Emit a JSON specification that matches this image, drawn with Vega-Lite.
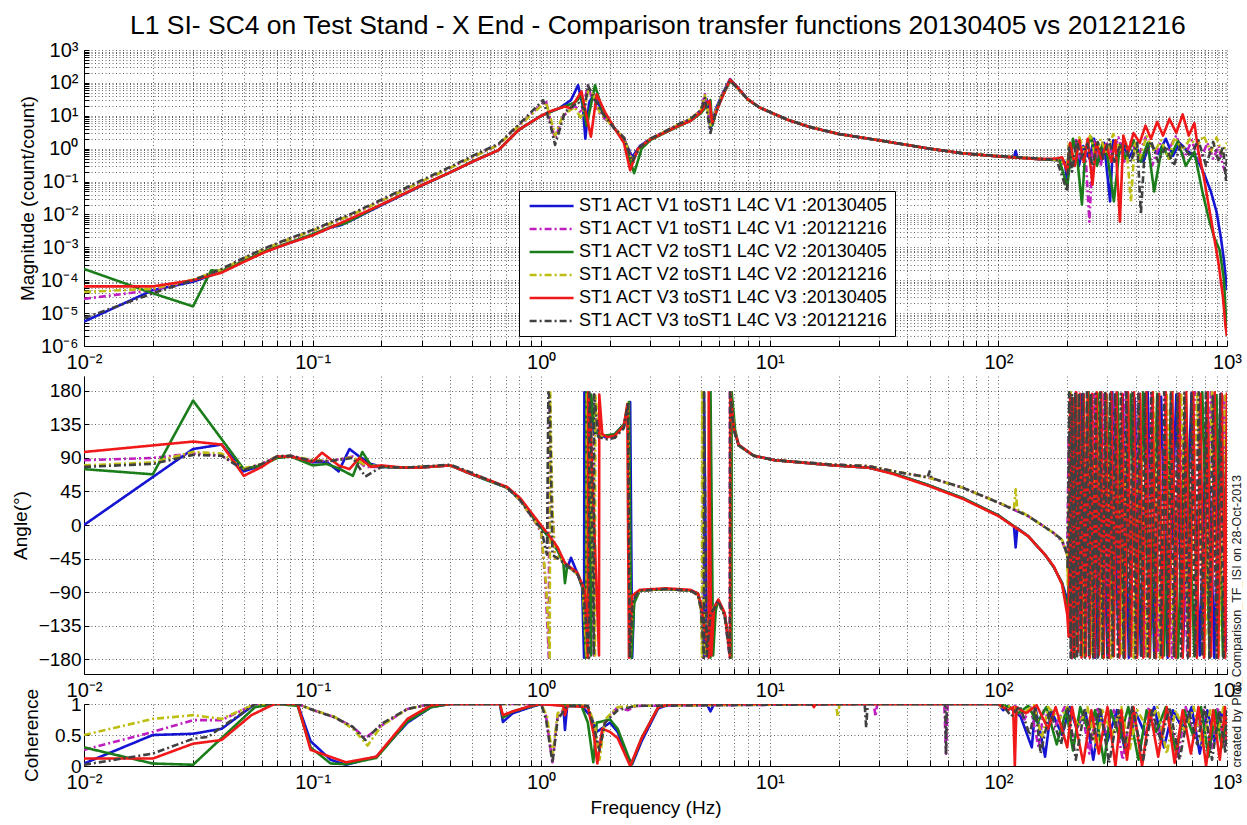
{
"$schema": "https://vega.github.io/schema/vega-lite/v6.json",
"padding": {"left": 11, "top": 12, "right": 0, "bottom": 5},
"title": {"text": "L1 SI- SC4 on Test Stand - X End - Comparison transfer functions 20130405 vs 20121216", "fontSize": 26.5, "fontWeight": "normal", "font": "Liberation Sans", "color": "#000", "anchor": "middle", "offset": 1, "dx": 31},
"config": {
 "view": {"stroke": null},
 "font": "Liberation Sans",
 "axis": {"labelFont": "Liberation Sans", "titleFont": "Liberation Sans", "labelColor": "#000", "titleColor": "#000", "domainColor": "#000", "tickColor": "#000", "gridColor": "#000", "gridDash": [1, 2.5], "gridOpacity": 0.6, "titleFontWeight": "normal", "labelFontSize": 19, "titleFontSize": 19}
},
"bounds": "flush",
"spacing": 30,
"resolve": {"scale": {"color": "independent", "strokeDash": "independent"}, "legend": {"color": "independent", "strokeDash": "independent"}},
"datasets": {
"mag": [
{"f":0.01,"s":"b","v":5.5e-6},{"f":0.02,"s":"b","v":5e-5},{"f":0.03,"s":"b","v":9e-5},{"f":0.04,"s":"b","v":1.8e-4},{"f":0.05,"s":"b","v":3.8e-4},{"f":0.062,"s":"b","v":7.5e-4},{"f":0.078,"s":"b","v":1.3e-3},{"f":0.1,"s":"b","v":2.4e-3},{"f":0.12,"s":"b","v":4e-3},{"f":0.134,"s":"b","v":4.8e-3},{"f":0.15,"s":"b","v":7e-3},{"f":0.2,"s":"b","v":0.019},{"f":0.3,"s":"b","v":0.075},{"f":0.4,"s":"b","v":0.19},{"f":0.5,"s":"b","v":0.4},{"f":0.65,"s":"b","v":0.9},{"f":0.8,"s":"b","v":3.8},{"f":1.0,"s":"b","v":10},{"f":1.2,"s":"b","v":17},{"f":1.35,"s":"b","v":30},{"f":1.45,"s":"b","v":85},{"f":1.52,"s":"b","v":20},{"f":1.56,"s":"b","v":2},{"f":1.62,"s":"b","v":25},{"f":1.7,"s":"b","v":45},{"f":1.85,"s":"b","v":13},{"f":2.1,"s":"b","v":4},{"f":2.3,"s":"b","v":2},{"f":2.5,"s":"b","v":0.55},{"f":2.7,"s":"b","v":1.2},{"f":3.0,"s":"b","v":2},{"f":3.5,"s":"b","v":3.2},{"f":4.0,"s":"b","v":5},{"f":4.5,"s":"b","v":7},{"f":5.0,"s":"b","v":13},{"f":5.3,"s":"b","v":32},{"f":5.5,"s":"b","v":4},{"f":5.8,"s":"b","v":16},{"f":6.2,"s":"b","v":46},{"f":6.7,"s":"b","v":130},{"f":7.2,"s":"b","v":75},{"f":8,"s":"b","v":32},{"f":9,"s":"b","v":18},{"f":10,"s":"b","v":13},{"f":12,"s":"b","v":7.5},{"f":15,"s":"b","v":4.5},{"f":20,"s":"b","v":2.8},{"f":30,"s":"b","v":1.8},{"f":50,"s":"b","v":1.0},{"f":70,"s":"b","v":0.72},{"f":100,"s":"b","v":0.58},{"f":117,"s":"b","v":0.55},{"f":119,"s":"b","v":0.85},{"f":121,"s":"b","v":0.55},{"f":150,"s":"b","v":0.48},{"f":180,"s":"b","v":0.45},{"f":195,"s":"b","v":0.4},{"f":200,"s":"b","v":0.1},{"f":205,"s":"b","v":0.6},{"f":215,"s":"b","v":1.5},{"f":225,"s":"b","v":0.3},{"f":235,"s":"b","v":1.2},{"f":250,"s":"b","v":0.5},{"f":262,"s":"b","v":2},{"f":275,"s":"b","v":0.4},{"f":290,"s":"b","v":1.5},{"f":308,"s":"b","v":0.025},{"f":318,"s":"b","v":1.8},{"f":335,"s":"b","v":0.6},{"f":350,"s":"b","v":1.5},{"f":370,"s":"b","v":0.5},{"f":400,"s":"b","v":1.2},{"f":430,"s":"b","v":0.4},{"f":460,"s":"b","v":1.4},{"f":500,"s":"b","v":0.7},{"f":540,"s":"b","v":2},{"f":580,"s":"b","v":0.6},{"f":620,"s":"b","v":1.5},{"f":680,"s":"b","v":0.8},{"f":740,"s":"b","v":0.5},{"f":800,"s":"b","v":0.15},{"f":850,"s":"b","v":0.05},{"f":900,"s":"b","v":0.012},{"f":940,"s":"b","v":2e-3},{"f":970,"s":"b","v":4e-4},{"f":1000,"s":"b","v":5e-5},
{"f":0.01,"s":"m","v":2.7e-5},{"f":0.02,"s":"m","v":5e-5},{"f":0.03,"s":"m","v":1e-4},{"f":0.04,"s":"m","v":2e-4},{"f":0.05,"s":"m","v":4.5e-4},{"f":0.062,"s":"m","v":9e-4},{"f":0.078,"s":"m","v":1.7e-3},{"f":0.1,"s":"m","v":3.2e-3},{"f":0.15,"s":"m","v":0.01},{"f":0.2,"s":"m","v":0.026},{"f":0.3,"s":"m","v":0.1},{"f":0.4,"s":"m","v":0.26},{"f":0.5,"s":"m","v":0.55},{"f":0.65,"s":"m","v":1.3},{"f":0.8,"s":"m","v":5},{"f":1.0,"s":"m","v":22},{"f":1.05,"s":"m","v":28},{"f":1.1,"s":"m","v":6},{"f":1.15,"s":"m","v":2},{"f":1.25,"s":"m","v":10},{"f":1.4,"s":"m","v":20},{"f":1.5,"s":"m","v":12},{"f":1.6,"s":"m","v":80},{"f":1.68,"s":"m","v":30},{"f":1.8,"s":"m","v":12},{"f":2.1,"s":"m","v":4},{"f":2.3,"s":"m","v":2.2},{"f":2.5,"s":"m","v":0.4},{"f":2.7,"s":"m","v":1.1},{"f":3.0,"s":"m","v":2},{"f":3.5,"s":"m","v":3.4},{"f":4.0,"s":"m","v":5.5},{"f":4.5,"s":"m","v":8},{"f":5.0,"s":"m","v":15},{"f":5.2,"s":"m","v":46},{"f":5.45,"s":"m","v":8},{"f":5.7,"s":"m","v":10},{"f":6.2,"s":"m","v":45},{"f":6.7,"s":"m","v":120},{"f":7.2,"s":"m","v":70},{"f":8,"s":"m","v":32},{"f":9,"s":"m","v":18},{"f":10,"s":"m","v":13},{"f":12,"s":"m","v":7.5},{"f":15,"s":"m","v":4.6},{"f":20,"s":"m","v":2.8},{"f":30,"s":"m","v":1.8},{"f":50,"s":"m","v":1.0},{"f":70,"s":"m","v":0.72},{"f":100,"s":"m","v":0.6},{"f":150,"s":"m","v":0.5},{"f":180,"s":"m","v":0.45},{"f":200,"s":"m","v":0.3},{"f":208,"s":"m","v":0.8},{"f":218,"s":"m","v":2},{"f":228,"s":"m","v":0.5},{"f":240,"s":"m","v":0.9},{"f":250,"s":"m","v":0.006},{"f":260,"s":"m","v":1.8},{"f":280,"s":"m","v":0.3},{"f":295,"s":"m","v":1.6},{"f":315,"s":"m","v":0.7},{"f":335,"s":"m","v":2.2},{"f":355,"s":"m","v":0.4},{"f":380,"s":"m","v":1.7},{"f":410,"s":"m","v":0.6},{"f":440,"s":"m","v":2.2},{"f":470,"s":"m","v":0.3},{"f":510,"s":"m","v":1.5},{"f":550,"s":"m","v":0.8},{"f":600,"s":"m","v":2.5},{"f":650,"s":"m","v":0.5},{"f":700,"s":"m","v":1.8},{"f":760,"s":"m","v":0.4},{"f":820,"s":"m","v":1.5},{"f":870,"s":"m","v":0.5},{"f":920,"s":"m","v":1.2},{"f":960,"s":"m","v":0.3},{"f":1000,"s":"m","v":0.15},
{"f":0.01,"s":"g","v":2.2e-4},{"f":0.02,"s":"g","v":4e-5},{"f":0.03,"s":"g","v":1.6e-5},{"f":0.036,"s":"g","v":2e-4},{"f":0.04,"s":"g","v":1.9e-4},{"f":0.05,"s":"g","v":3.9e-4},{"f":0.062,"s":"g","v":7.8e-4},{"f":0.078,"s":"g","v":1.35e-3},{"f":0.1,"s":"g","v":2.5e-3},{"f":0.12,"s":"g","v":4.2e-3},{"f":0.14,"s":"g","v":5.5e-3},{"f":0.15,"s":"g","v":7.2e-3},{"f":0.2,"s":"g","v":0.02},{"f":0.3,"s":"g","v":0.077},{"f":0.4,"s":"g","v":0.19},{"f":0.5,"s":"g","v":0.41},{"f":0.65,"s":"g","v":0.9},{"f":0.8,"s":"g","v":3.8},{"f":1.0,"s":"g","v":10},{"f":1.2,"s":"g","v":17},{"f":1.4,"s":"g","v":25},{"f":1.5,"s":"g","v":40},{"f":1.58,"s":"g","v":5},{"f":1.72,"s":"g","v":85},{"f":1.85,"s":"g","v":15},{"f":2.1,"s":"g","v":4},{"f":2.3,"s":"g","v":1.8},{"f":2.55,"s":"g","v":0.18},{"f":2.75,"s":"g","v":1.0},{"f":3.0,"s":"g","v":1.8},{"f":3.5,"s":"g","v":3.1},{"f":4.0,"s":"g","v":4.8},{"f":4.5,"s":"g","v":7},{"f":5.0,"s":"g","v":12},{"f":5.3,"s":"g","v":20},{"f":5.5,"s":"g","v":30},{"f":5.6,"s":"g","v":5},{"f":5.9,"s":"g","v":18},{"f":6.3,"s":"g","v":50},{"f":6.75,"s":"g","v":120},{"f":7.2,"s":"g","v":72},{"f":8,"s":"g","v":31},{"f":9,"s":"g","v":18},{"f":10,"s":"g","v":13},{"f":12,"s":"g","v":7.5},{"f":15,"s":"g","v":4.5},{"f":20,"s":"g","v":2.8},{"f":30,"s":"g","v":1.8},{"f":50,"s":"g","v":1.0},{"f":70,"s":"g","v":0.72},{"f":100,"s":"g","v":0.58},{"f":150,"s":"g","v":0.48},{"f":185,"s":"g","v":0.45},{"f":200,"s":"g","v":0.07},{"f":205,"s":"g","v":0.3},{"f":212,"s":"g","v":2},{"f":222,"s":"g","v":0.4},{"f":232,"s":"g","v":0.02},{"f":240,"s":"g","v":0.9},{"f":255,"s":"g","v":2.2},{"f":270,"s":"g","v":0.3},{"f":285,"s":"g","v":1.4},{"f":300,"s":"g","v":0.6},{"f":320,"s":"g","v":0.025},{"f":340,"s":"g","v":1.3},{"f":360,"s":"g","v":0.5},{"f":390,"s":"g","v":1.8},{"f":420,"s":"g","v":0.4},{"f":450,"s":"g","v":1.5},{"f":480,"s":"g","v":0.05},{"f":520,"s":"g","v":1.2},{"f":560,"s":"g","v":0.5},{"f":610,"s":"g","v":1.7},{"f":660,"s":"g","v":0.3},{"f":720,"s":"g","v":0.8},{"f":780,"s":"g","v":0.05},{"f":830,"s":"g","v":8e-3},{"f":880,"s":"g","v":2e-3},{"f":930,"s":"g","v":8e-4},{"f":970,"s":"g","v":1e-4},{"f":1000,"s":"g","v":2e-6},
{"f":0.01,"s":"y","v":4.4e-5},{"f":0.02,"s":"y","v":5.5e-5},{"f":0.03,"s":"y","v":1.05e-4},{"f":0.04,"s":"y","v":2.1e-4},{"f":0.05,"s":"y","v":4.6e-4},{"f":0.062,"s":"y","v":9e-4},{"f":0.078,"s":"y","v":1.7e-3},{"f":0.1,"s":"y","v":3.2e-3},{"f":0.15,"s":"y","v":0.01},{"f":0.2,"s":"y","v":0.026},{"f":0.3,"s":"y","v":0.1},{"f":0.4,"s":"y","v":0.26},{"f":0.5,"s":"y","v":0.55},{"f":0.65,"s":"y","v":1.3},{"f":0.8,"s":"y","v":5},{"f":1.0,"s":"y","v":20},{"f":1.05,"s":"y","v":26},{"f":1.1,"s":"y","v":8},{"f":1.15,"s":"y","v":2.5},{"f":1.25,"s":"y","v":11},{"f":1.4,"s":"y","v":18},{"f":1.5,"s":"y","v":8},{"f":1.62,"s":"y","v":70},{"f":1.7,"s":"y","v":40},{"f":1.8,"s":"y","v":13},{"f":2.1,"s":"y","v":4},{"f":2.3,"s":"y","v":2.1},{"f":2.5,"s":"y","v":0.45},{"f":2.7,"s":"y","v":1.1},{"f":3.0,"s":"y","v":2},{"f":3.5,"s":"y","v":3.4},{"f":4.0,"s":"y","v":5.5},{"f":4.5,"s":"y","v":8},{"f":5.0,"s":"y","v":15},{"f":5.2,"s":"y","v":42},{"f":5.5,"s":"y","v":5},{"f":5.7,"s":"y","v":10},{"f":6.2,"s":"y","v":45},{"f":6.7,"s":"y","v":115},{"f":7.2,"s":"y","v":70},{"f":8,"s":"y","v":32},{"f":9,"s":"y","v":18},{"f":10,"s":"y","v":13},{"f":12,"s":"y","v":7.5},{"f":15,"s":"y","v":4.6},{"f":20,"s":"y","v":2.8},{"f":30,"s":"y","v":1.8},{"f":50,"s":"y","v":1.0},{"f":70,"s":"y","v":0.72},{"f":100,"s":"y","v":0.6},{"f":150,"s":"y","v":0.5},{"f":180,"s":"y","v":0.45},{"f":200,"s":"y","v":0.35},{"f":204,"s":"y","v":1.5},{"f":214,"s":"y","v":0.5},{"f":226,"s":"y","v":2.2},{"f":238,"s":"y","v":0.8},{"f":252,"s":"y","v":2.5},{"f":266,"s":"y","v":0.6},{"f":280,"s":"y","v":2},{"f":298,"s":"y","v":0.7},{"f":318,"s":"y","v":2.8},{"f":340,"s":"y","v":0.9},{"f":362,"s":"y","v":1.5},{"f":380,"s":"y","v":0.025},{"f":395,"s":"y","v":1.6},{"f":415,"s":"y","v":0.5},{"f":445,"s":"y","v":2.4},{"f":480,"s":"y","v":0.8},{"f":515,"s":"y","v":1.8},{"f":555,"s":"y","v":0.5},{"f":590,"s":"y","v":2.2},{"f":640,"s":"y","v":0.9},{"f":690,"s":"y","v":2},{"f":740,"s":"y","v":1.2},{"f":790,"s":"y","v":2.5},{"f":850,"s":"y","v":0.8},{"f":900,"s":"y","v":2.2},{"f":950,"s":"y","v":0.7},{"f":1000,"s":"y","v":1.5},
{"f":0.01,"s":"r","v":6.5e-5},{"f":0.02,"s":"r","v":6.5e-5},{"f":0.03,"s":"r","v":1e-4},{"f":0.04,"s":"r","v":1.7e-4},{"f":0.05,"s":"r","v":3.6e-4},{"f":0.062,"s":"r","v":7.2e-4},{"f":0.078,"s":"r","v":1.3e-3},{"f":0.1,"s":"r","v":2.3e-3},{"f":0.15,"s":"r","v":8e-3},{"f":0.2,"s":"r","v":0.02},{"f":0.3,"s":"r","v":0.077},{"f":0.4,"s":"r","v":0.19},{"f":0.5,"s":"r","v":0.4},{"f":0.65,"s":"r","v":0.9},{"f":0.8,"s":"r","v":3.8},{"f":1.0,"s":"r","v":10},{"f":1.1,"s":"r","v":14},{"f":1.27,"s":"r","v":19},{"f":1.35,"s":"r","v":17},{"f":1.5,"s":"r","v":55},{"f":1.65,"s":"r","v":2.3},{"f":1.75,"s":"r","v":45},{"f":1.9,"s":"r","v":13},{"f":2.1,"s":"r","v":4},{"f":2.3,"s":"r","v":1.5},{"f":2.45,"s":"r","v":0.22},{"f":2.65,"s":"r","v":1},{"f":3.0,"s":"r","v":1.9},{"f":3.5,"s":"r","v":3.2},{"f":4.0,"s":"r","v":5},{"f":4.5,"s":"r","v":7},{"f":5.0,"s":"r","v":13},{"f":5.3,"s":"r","v":25},{"f":5.45,"s":"r","v":28},{"f":5.6,"s":"r","v":6},{"f":5.9,"s":"r","v":16},{"f":6.3,"s":"r","v":48},{"f":6.7,"s":"r","v":125},{"f":7.2,"s":"r","v":75},{"f":8,"s":"r","v":32},{"f":9,"s":"r","v":18},{"f":10,"s":"r","v":13},{"f":12,"s":"r","v":7.5},{"f":15,"s":"r","v":4.5},{"f":20,"s":"r","v":2.8},{"f":30,"s":"r","v":1.8},{"f":50,"s":"r","v":1.0},{"f":70,"s":"r","v":0.72},{"f":100,"s":"r","v":0.58},{"f":150,"s":"r","v":0.48},{"f":180,"s":"r","v":0.5},{"f":190,"s":"r","v":0.55},{"f":200,"s":"r","v":0.2},{"f":206,"s":"r","v":1.5},{"f":216,"s":"r","v":0.3},{"f":226,"s":"r","v":1.8},{"f":236,"s":"r","v":0.4},{"f":246,"s":"r","v":2},{"f":258,"s":"r","v":0.08},{"f":268,"s":"r","v":1.5},{"f":282,"s":"r","v":0.5},{"f":296,"s":"r","v":1.3},{"f":312,"s":"r","v":0.4},{"f":325,"s":"r","v":1.8},{"f":340,"s":"r","v":0.006},{"f":352,"s":"r","v":2.5},{"f":370,"s":"r","v":0.8},{"f":390,"s":"r","v":3},{"f":415,"s":"r","v":1.5},{"f":440,"s":"r","v":5},{"f":465,"s":"r","v":2},{"f":495,"s":"r","v":6.5},{"f":525,"s":"r","v":2.5},{"f":560,"s":"r","v":8},{"f":600,"s":"r","v":3},{"f":640,"s":"r","v":11},{"f":680,"s":"r","v":2.5},{"f":720,"s":"r","v":6},{"f":750,"s":"r","v":0.8},{"f":790,"s":"r","v":0.15},{"f":830,"s":"r","v":0.02},{"f":870,"s":"r","v":3e-3},{"f":920,"s":"r","v":3e-4},{"f":960,"s":"r","v":3e-5},{"f":985,"s":"r","v":4e-6},{"f":1000,"s":"r","v":2e-6},
{"f":0.01,"s":"k","v":7e-6},{"f":0.02,"s":"k","v":4e-5},{"f":0.03,"s":"k","v":1e-4},{"f":0.04,"s":"k","v":2.2e-4},{"f":0.05,"s":"k","v":4.8e-4},{"f":0.062,"s":"k","v":9.5e-4},{"f":0.078,"s":"k","v":1.8e-3},{"f":0.1,"s":"k","v":3.4e-3},{"f":0.15,"s":"k","v":0.011},{"f":0.2,"s":"k","v":0.028},{"f":0.3,"s":"k","v":0.11},{"f":0.4,"s":"k","v":0.28},{"f":0.5,"s":"k","v":0.6},{"f":0.65,"s":"k","v":1.4},{"f":0.8,"s":"k","v":5.5},{"f":1.02,"s":"k","v":30},{"f":1.1,"s":"k","v":5},{"f":1.15,"s":"k","v":1.3},{"f":1.27,"s":"k","v":13},{"f":1.45,"s":"k","v":26},{"f":1.55,"s":"k","v":15},{"f":1.6,"s":"k","v":85},{"f":1.7,"s":"k","v":35},{"f":1.85,"s":"k","v":12},{"f":2.1,"s":"k","v":4},{"f":2.3,"s":"k","v":2.2},{"f":2.5,"s":"k","v":0.4},{"f":2.7,"s":"k","v":1.1},{"f":3.0,"s":"k","v":2},{"f":3.5,"s":"k","v":3.4},{"f":4.0,"s":"k","v":5.6},{"f":4.5,"s":"k","v":8},{"f":5.0,"s":"k","v":15},{"f":5.2,"s":"k","v":35},{"f":5.5,"s":"k","v":3},{"f":5.75,"s":"k","v":10},{"f":6.2,"s":"k","v":44},{"f":6.7,"s":"k","v":115},{"f":7.2,"s":"k","v":70},{"f":8,"s":"k","v":32},{"f":9,"s":"k","v":18},{"f":10,"s":"k","v":13},{"f":12,"s":"k","v":7.5},{"f":15,"s":"k","v":4.6},{"f":20,"s":"k","v":2.8},{"f":30,"s":"k","v":1.8},{"f":50,"s":"k","v":1.0},{"f":70,"s":"k","v":0.72},{"f":100,"s":"k","v":0.6},{"f":150,"s":"k","v":0.5},{"f":180,"s":"k","v":0.45},{"f":200,"s":"k","v":0.05},{"f":203,"s":"k","v":1.2},{"f":210,"s":"k","v":0.2},{"f":220,"s":"k","v":1.8},{"f":230,"s":"k","v":0.5},{"f":245,"s":"k","v":1.4},{"f":258,"s":"k","v":0.3},{"f":272,"s":"k","v":1.6},{"f":288,"s":"k","v":0.5},{"f":305,"s":"k","v":1.9},{"f":322,"s":"k","v":0.4},{"f":338,"s":"k","v":1.1},{"f":358,"s":"k","v":1.2},{"f":380,"s":"k","v":0.4},{"f":405,"s":"k","v":1.5},{"f":420,"s":"k","v":0.01},{"f":435,"s":"k","v":0.6},{"f":465,"s":"k","v":1.7},{"f":500,"s":"k","v":0.4},{"f":540,"s":"k","v":1.2},{"f":585,"s":"k","v":0.3},{"f":630,"s":"k","v":1.4},{"f":690,"s":"k","v":0.6},{"f":750,"s":"k","v":1.8},{"f":810,"s":"k","v":0.3},{"f":870,"s":"k","v":1.6},{"f":920,"s":"k","v":0.4},{"f":960,"s":"k","v":1.2},{"f":990,"s":"k","v":0.1},{"f":1000,"s":"k","v":0.8}
],
"phase": [
{"f":0.01,"s":"b","v":0},{"f":0.03,"s":"b","v":102},{"f":0.04,"s":"b","v":108},{"f":0.05,"s":"b","v":72},{"f":0.06,"s":"b","v":80},{"f":0.07,"s":"b","v":91},{"f":0.08,"s":"b","v":92},{"f":0.1,"s":"b","v":84},{"f":0.115,"s":"b","v":85},{"f":0.13,"s":"b","v":72},{"f":0.145,"s":"b","v":102},{"f":0.16,"s":"b","v":92},{"f":0.18,"s":"b","v":82},{"f":0.2,"s":"b","v":78},{"f":0.25,"s":"b","v":77},{"f":0.29,"s":"b","v":77},{"f":0.4,"s":"b","v":80},{"f":0.48,"s":"b","v":70},{"f":0.57,"s":"b","v":61},{"f":0.71,"s":"b","v":50},{"f":0.81,"s":"b","v":34},{"f":0.94,"s":"b","v":7},{"f":1.07,"s":"b","v":-15},{"f":1.18,"s":"b","v":-34},{"f":1.25,"s":"b","v":-48},{"f":1.3,"s":"b","v":-58},{"f":1.35,"s":"b","v":-44},{"f":1.44,"s":"b","v":-65},{"f":1.51,"s":"b","v":-83},{"f":1.54,"s":"b","v":-178},{"f":1.545,"s":"b","v":178},{"f":1.56,"s":"b","v":140},{"f":1.6,"s":"b","v":-175},{"f":1.605,"s":"b","v":175},{"f":1.7,"s":"b","v":125},{"f":1.9,"s":"b","v":118},{"f":2.1,"s":"b","v":122},{"f":2.3,"s":"b","v":135},{"f":2.45,"s":"b","v":165},{"f":2.5,"s":"b","v":-178},{"f":2.55,"s":"b","v":-100},{"f":2.7,"s":"b","v":-88},{"f":3.5,"s":"b","v":-86},{"f":4.5,"s":"b","v":-88},{"f":4.85,"s":"b","v":-92},{"f":5.0,"s":"b","v":-110},{"f":5.15,"s":"b","v":-178},{"f":5.155,"s":"b","v":178},{"f":5.3,"s":"b","v":-175},{"f":5.5,"s":"b","v":-118},{"f":5.95,"s":"b","v":-101},{"f":6.35,"s":"b","v":-120},{"f":6.75,"s":"b","v":-178},{"f":6.76,"s":"b","v":178},{"f":6.9,"s":"b","v":150},{"f":7.0,"s":"b","v":128},{"f":7.3,"s":"b","v":107},{"f":8.5,"s":"b","v":93},{"f":10.5,"s":"b","v":87},{"f":19,"s":"b","v":80},{"f":27,"s":"b","v":77},{"f":35,"s":"b","v":69},{"f":49,"s":"b","v":54},{"f":70,"s":"b","v":36},{"f":100,"s":"b","v":13},{"f":117,"s":"b","v":-2},{"f":119,"s":"b","v":-30},{"f":121,"s":"b","v":-4},{"f":135,"s":"b","v":-15},{"f":160,"s":"b","v":-40},{"f":175,"s":"b","v":-57},{"f":190,"s":"b","v":-78},{"f":200,"s":"b","v":-100},{"f":205,"s":"b","v":-150},{"f":212,"s":"b","v":170},{"f":220,"s":"b","v":-120},{"f":232,"s":"b","v":175},{"f":240,"s":"b","v":-170},{"f":255,"s":"b","v":160},{"f":265,"s":"b","v":-178},{"f":280,"s":"b","v":150},{"f":300,"s":"b","v":-175},{"f":315,"s":"b","v":178},{"f":335,"s":"b","v":-160},{"f":350,"s":"b","v":175},{"f":372,"s":"b","v":-178},{"f":395,"s":"b","v":170},{"f":420,"s":"b","v":-175},{"f":450,"s":"b","v":178},{"f":480,"s":"b","v":-170},{"f":515,"s":"b","v":172},{"f":550,"s":"b","v":-178},{"f":600,"s":"b","v":175},{"f":640,"s":"b","v":-176},{"f":700,"s":"b","v":177},{"f":760,"s":"b","v":-175},{"f":820,"s":"b","v":178},{"f":880,"s":"b","v":-178},{"f":940,"s":"b","v":176},{"f":1000,"s":"b","v":-170},
{"f":0.01,"s":"m","v":87},{"f":0.02,"s":"m","v":90},{"f":0.03,"s":"m","v":96},{"f":0.04,"s":"m","v":93},{"f":0.05,"s":"m","v":75},{"f":0.06,"s":"m","v":82},{"f":0.07,"s":"m","v":92},{"f":0.08,"s":"m","v":93},{"f":0.1,"s":"m","v":86},{"f":0.12,"s":"m","v":86},{"f":0.15,"s":"m","v":92},{"f":0.17,"s":"m","v":78},{"f":0.2,"s":"m","v":78},{"f":0.25,"s":"m","v":77},{"f":0.29,"s":"m","v":78},{"f":0.4,"s":"m","v":80},{"f":0.48,"s":"m","v":71},{"f":0.57,"s":"m","v":62},{"f":0.71,"s":"m","v":50},{"f":0.81,"s":"m","v":33},{"f":0.94,"s":"m","v":4},{"f":1.0,"s":"m","v":-10},{"f":1.04,"s":"m","v":-70},{"f":1.07,"s":"m","v":-150},{"f":1.08,"s":"m","v":-178},{"f":1.085,"s":"m","v":178},{"f":1.11,"s":"m","v":40},{"f":1.15,"s":"m","v":-45},{"f":1.2,"s":"m","v":-42},{"f":1.27,"s":"m","v":-52},{"f":1.44,"s":"m","v":-66},{"f":1.52,"s":"m","v":-82},{"f":1.6,"s":"m","v":-178},{"f":1.605,"s":"m","v":178},{"f":1.63,"s":"m","v":140},{"f":1.7,"s":"m","v":-175},{"f":1.705,"s":"m","v":175},{"f":1.78,"s":"m","v":120},{"f":1.95,"s":"m","v":116},{"f":2.1,"s":"m","v":118},{"f":2.3,"s":"m","v":132},{"f":2.4,"s":"m","v":165},{"f":2.44,"s":"m","v":-178},{"f":2.52,"s":"m","v":-100},{"f":2.7,"s":"m","v":-88},{"f":3.5,"s":"m","v":-86},{"f":4.5,"s":"m","v":-88},{"f":4.85,"s":"m","v":-94},{"f":5.0,"s":"m","v":-112},{"f":5.1,"s":"m","v":-178},{"f":5.105,"s":"m","v":178},{"f":5.25,"s":"m","v":-176},{"f":5.45,"s":"m","v":-120},{"f":5.95,"s":"m","v":-102},{"f":6.35,"s":"m","v":-122},{"f":6.68,"s":"m","v":-178},{"f":6.69,"s":"m","v":178},{"f":6.85,"s":"m","v":150},{"f":6.95,"s":"m","v":128},{"f":7.3,"s":"m","v":107},{"f":8.5,"s":"m","v":93},{"f":10.5,"s":"m","v":87},{"f":19,"s":"m","v":81},{"f":27,"s":"m","v":79},{"f":35,"s":"m","v":72},{"f":49,"s":"m","v":64},{"f":70,"s":"m","v":50},{"f":100,"s":"m","v":30},{"f":135,"s":"m","v":12},{"f":160,"s":"m","v":-3},{"f":175,"s":"m","v":-11},{"f":190,"s":"m","v":-22},{"f":200,"s":"m","v":-40},{"f":203,"s":"m","v":120},{"f":210,"s":"m","v":-178},{"f":218,"s":"m","v":178},{"f":228,"s":"m","v":-140},{"f":236,"s":"m","v":178},{"f":250,"s":"m","v":-178},{"f":262,"s":"m","v":175},{"f":275,"s":"m","v":-170},{"f":290,"s":"m","v":178},{"f":305,"s":"m","v":-178},{"f":322,"s":"m","v":170},{"f":340,"s":"m","v":-175},{"f":360,"s":"m","v":178},{"f":385,"s":"m","v":-165},{"f":410,"s":"m","v":176},{"f":438,"s":"m","v":-178},{"f":468,"s":"m","v":178},{"f":500,"s":"m","v":-172},{"f":535,"s":"m","v":175},{"f":575,"s":"m","v":-178},{"f":620,"s":"m","v":176},{"f":670,"s":"m","v":-175},{"f":725,"s":"m","v":178},{"f":790,"s":"m","v":-176},{"f":850,"s":"m","v":178},{"f":910,"s":"m","v":-170},{"f":970,"s":"m","v":175},{"f":1000,"s":"m","v":-150},
{"f":0.01,"s":"g","v":75},{"f":0.02,"s":"g","v":68},{"f":0.03,"s":"g","v":167},{"f":0.05,"s":"g","v":75},{"f":0.06,"s":"g","v":80},{"f":0.07,"s":"g","v":90},{"f":0.08,"s":"g","v":92},{"f":0.1,"s":"g","v":80},{"f":0.115,"s":"g","v":82},{"f":0.13,"s":"g","v":76},{"f":0.15,"s":"g","v":66},{"f":0.165,"s":"g","v":98},{"f":0.18,"s":"g","v":80},{"f":0.2,"s":"g","v":78},{"f":0.25,"s":"g","v":77},{"f":0.29,"s":"g","v":77},{"f":0.4,"s":"g","v":80},{"f":0.48,"s":"g","v":70},{"f":0.57,"s":"g","v":61},{"f":0.71,"s":"g","v":50},{"f":0.81,"s":"g","v":34},{"f":0.94,"s":"g","v":7},{"f":1.07,"s":"g","v":-15},{"f":1.18,"s":"g","v":-34},{"f":1.25,"s":"g","v":-52},{"f":1.27,"s":"g","v":-78},{"f":1.3,"s":"g","v":-55},{"f":1.44,"s":"g","v":-65},{"f":1.52,"s":"g","v":-85},{"f":1.57,"s":"g","v":-178},{"f":1.575,"s":"g","v":178},{"f":1.6,"s":"g","v":140},{"f":1.65,"s":"g","v":-175},{"f":1.655,"s":"g","v":175},{"f":1.72,"s":"g","v":125},{"f":1.9,"s":"g","v":120},{"f":2.1,"s":"g","v":122},{"f":2.3,"s":"g","v":135},{"f":2.42,"s":"g","v":165},{"f":2.48,"s":"g","v":-178},{"f":2.55,"s":"g","v":-105},{"f":2.7,"s":"g","v":-88},{"f":3.5,"s":"g","v":-86},{"f":4.5,"s":"g","v":-88},{"f":4.85,"s":"g","v":-92},{"f":5.0,"s":"g","v":-108},{"f":5.5,"s":"g","v":-178},{"f":5.505,"s":"g","v":178},{"f":5.65,"s":"g","v":-175},{"f":5.8,"s":"g","v":-115},{"f":5.95,"s":"g","v":-101},{"f":6.35,"s":"g","v":-120},{"f":6.8,"s":"g","v":-178},{"f":6.81,"s":"g","v":178},{"f":6.95,"s":"g","v":150},{"f":7.05,"s":"g","v":128},{"f":7.3,"s":"g","v":107},{"f":8.5,"s":"g","v":93},{"f":10.5,"s":"g","v":87},{"f":19,"s":"g","v":80},{"f":27,"s":"g","v":77},{"f":35,"s":"g","v":69},{"f":49,"s":"g","v":54},{"f":70,"s":"g","v":36},{"f":100,"s":"g","v":13},{"f":135,"s":"g","v":-15},{"f":160,"s":"g","v":-40},{"f":175,"s":"g","v":-57},{"f":190,"s":"g","v":-78},{"f":200,"s":"g","v":-110},{"f":202,"s":"g","v":-120},{"f":208,"s":"g","v":175},{"f":216,"s":"g","v":-178},{"f":226,"s":"g","v":170},{"f":238,"s":"g","v":-175},{"f":248,"s":"g","v":178},{"f":260,"s":"g","v":-170},{"f":272,"s":"g","v":176},{"f":285,"s":"g","v":-178},{"f":298,"s":"g","v":174},{"f":318,"s":"g","v":-176},{"f":332,"s":"g","v":178},{"f":355,"s":"g","v":-178},{"f":380,"s":"g","v":175},{"f":405,"s":"g","v":-174},{"f":430,"s":"g","v":178},{"f":460,"s":"g","v":-178},{"f":495,"s":"g","v":176},{"f":530,"s":"g","v":-175},{"f":570,"s":"g","v":178},{"f":610,"s":"g","v":-178},{"f":660,"s":"g","v":175},{"f":720,"s":"g","v":-176},{"f":780,"s":"g","v":178},{"f":840,"s":"g","v":-178},{"f":900,"s":"g","v":174},{"f":960,"s":"g","v":-176},{"f":1000,"s":"g","v":170},
{"f":0.01,"s":"y","v":80},{"f":0.02,"s":"y","v":84},{"f":0.03,"s":"y","v":98},{"f":0.04,"s":"y","v":96},{"f":0.05,"s":"y","v":76},{"f":0.06,"s":"y","v":82},{"f":0.07,"s":"y","v":92},{"f":0.08,"s":"y","v":93},{"f":0.1,"s":"y","v":87},{"f":0.12,"s":"y","v":86},{"f":0.15,"s":"y","v":91},{"f":0.17,"s":"y","v":80},{"f":0.2,"s":"y","v":79},{"f":0.25,"s":"y","v":77},{"f":0.29,"s":"y","v":78},{"f":0.4,"s":"y","v":80},{"f":0.48,"s":"y","v":71},{"f":0.57,"s":"y","v":62},{"f":0.71,"s":"y","v":50},{"f":0.81,"s":"y","v":33},{"f":0.94,"s":"y","v":5},{"f":1.0,"s":"y","v":-8},{"f":1.05,"s":"y","v":-80},{"f":1.09,"s":"y","v":-178},{"f":1.095,"s":"y","v":178},{"f":1.12,"s":"y","v":20},{"f":1.15,"s":"y","v":-45},{"f":1.2,"s":"y","v":-42},{"f":1.27,"s":"y","v":-52},{"f":1.44,"s":"y","v":-66},{"f":1.52,"s":"y","v":-80},{"f":1.58,"s":"y","v":-178},{"f":1.585,"s":"y","v":178},{"f":1.62,"s":"y","v":140},{"f":1.72,"s":"y","v":-175},{"f":1.725,"s":"y","v":175},{"f":1.8,"s":"y","v":120},{"f":1.95,"s":"y","v":117},{"f":2.1,"s":"y","v":118},{"f":2.3,"s":"y","v":133},{"f":2.4,"s":"y","v":165},{"f":2.44,"s":"y","v":-178},{"f":2.52,"s":"y","v":-100},{"f":2.7,"s":"y","v":-88},{"f":3.5,"s":"y","v":-86},{"f":4.5,"s":"y","v":-88},{"f":4.85,"s":"y","v":-94},{"f":5.0,"s":"y","v":-115},{"f":5.05,"s":"y","v":-178},{"f":5.055,"s":"y","v":178},{"f":5.2,"s":"y","v":-176},{"f":5.4,"s":"y","v":-120},{"f":5.95,"s":"y","v":-102},{"f":6.35,"s":"y","v":-122},{"f":6.72,"s":"y","v":-178},{"f":6.73,"s":"y","v":178},{"f":6.88,"s":"y","v":150},{"f":6.98,"s":"y","v":128},{"f":7.3,"s":"y","v":107},{"f":8.5,"s":"y","v":93},{"f":10.5,"s":"y","v":87},{"f":19,"s":"y","v":81},{"f":27,"s":"y","v":79},{"f":35,"s":"y","v":72},{"f":49,"s":"y","v":64},{"f":70,"s":"y","v":50},{"f":100,"s":"y","v":30},{"f":117,"s":"y","v":22},{"f":119,"s":"y","v":48},{"f":121,"s":"y","v":21},{"f":135,"s":"y","v":12},{"f":160,"s":"y","v":-3},{"f":175,"s":"y","v":-11},{"f":190,"s":"y","v":-20},{"f":200,"s":"y","v":-40},{"f":201,"s":"y","v":-80},{"f":207,"s":"y","v":178},{"f":214,"s":"y","v":-176},{"f":224,"s":"y","v":174},{"f":234,"s":"y","v":-178},{"f":244,"s":"y","v":176},{"f":256,"s":"y","v":-175},{"f":270,"s":"y","v":178},{"f":283,"s":"y","v":-170},{"f":296,"s":"y","v":176},{"f":312,"s":"y","v":-178},{"f":328,"s":"y","v":172},{"f":345,"s":"y","v":-176},{"f":366,"s":"y","v":178},{"f":390,"s":"y","v":-178},{"f":415,"s":"y","v":175},{"f":445,"s":"y","v":-176},{"f":475,"s":"y","v":178},{"f":510,"s":"y","v":-178},{"f":545,"s":"y","v":176},{"f":585,"s":"y","v":-174},{"f":630,"s":"y","v":178},{"f":680,"s":"y","v":-178},{"f":740,"s":"y","v":176},{"f":800,"s":"y","v":-176},{"f":860,"s":"y","v":178},{"f":920,"s":"y","v":-178},{"f":980,"s":"y","v":176},
{"f":0.01,"s":"r","v":98},{"f":0.03,"s":"r","v":112},{"f":0.04,"s":"r","v":108},{"f":0.05,"s":"r","v":66},{"f":0.06,"s":"r","v":78},{"f":0.07,"s":"r","v":92},{"f":0.08,"s":"r","v":92},{"f":0.1,"s":"r","v":85},{"f":0.11,"s":"r","v":97},{"f":0.13,"s":"r","v":80},{"f":0.145,"s":"r","v":75},{"f":0.16,"s":"r","v":90},{"f":0.18,"s":"r","v":78},{"f":0.2,"s":"r","v":80},{"f":0.25,"s":"r","v":77},{"f":0.29,"s":"r","v":77},{"f":0.4,"s":"r","v":80},{"f":0.48,"s":"r","v":70},{"f":0.57,"s":"r","v":62},{"f":0.71,"s":"r","v":51},{"f":0.81,"s":"r","v":36},{"f":0.94,"s":"r","v":10},{"f":1.07,"s":"r","v":-12},{"f":1.18,"s":"r","v":-30},{"f":1.27,"s":"r","v":-51},{"f":1.44,"s":"r","v":-64},{"f":1.55,"s":"r","v":-88},{"f":1.6,"s":"r","v":-178},{"f":1.605,"s":"r","v":178},{"f":1.64,"s":"r","v":140},{"f":1.79,"s":"r","v":-175},{"f":1.795,"s":"r","v":175},{"f":1.85,"s":"r","v":122},{"f":1.95,"s":"r","v":118},{"f":2.1,"s":"r","v":120},{"f":2.3,"s":"r","v":133},{"f":2.38,"s":"r","v":162},{"f":2.42,"s":"r","v":-178},{"f":2.5,"s":"r","v":-95},{"f":2.7,"s":"r","v":-87},{"f":3.5,"s":"r","v":-85},{"f":4.5,"s":"r","v":-87},{"f":4.85,"s":"r","v":-92},{"f":5.0,"s":"r","v":-105},{"f":5.4,"s":"r","v":-178},{"f":5.405,"s":"r","v":178},{"f":5.55,"s":"r","v":-175},{"f":5.7,"s":"r","v":-112},{"f":5.95,"s":"r","v":-100},{"f":6.35,"s":"r","v":-118},{"f":6.7,"s":"r","v":-178},{"f":6.71,"s":"r","v":178},{"f":6.85,"s":"r","v":152},{"f":6.95,"s":"r","v":130},{"f":7.3,"s":"r","v":108},{"f":8.5,"s":"r","v":93},{"f":10.5,"s":"r","v":87},{"f":19,"s":"r","v":80},{"f":27,"s":"r","v":77},{"f":35,"s":"r","v":68},{"f":49,"s":"r","v":53},{"f":70,"s":"r","v":35},{"f":100,"s":"r","v":12},{"f":135,"s":"r","v":-15},{"f":160,"s":"r","v":-40},{"f":175,"s":"r","v":-56},{"f":190,"s":"r","v":-80},{"f":200,"s":"r","v":-120},{"f":203,"s":"r","v":-150},{"f":206,"s":"r","v":175},{"f":209,"s":"r","v":-178},{"f":212,"s":"r","v":170},{"f":215,"s":"r","v":-176},{"f":219,"s":"r","v":178},{"f":223,"s":"r","v":-170},{"f":227,"s":"r","v":176},{"f":231,"s":"r","v":-178},{"f":236,"s":"r","v":174},{"f":241,"s":"r","v":-176},{"f":246,"s":"r","v":178},{"f":251,"s":"r","v":-178},{"f":257,"s":"r","v":176},{"f":263,"s":"r","v":-177},{"f":269,"s":"r","v":178},{"f":275,"s":"r","v":-175},{"f":282,"s":"r","v":178},{"f":289,"s":"r","v":-178},{"f":296,"s":"r","v":176},{"f":304,"s":"r","v":-178},{"f":312,"s":"r","v":178},{"f":320,"s":"r","v":-176},{"f":329,"s":"r","v":178},{"f":338,"s":"r","v":-178},{"f":348,"s":"r","v":176},{"f":358,"s":"r","v":-178},{"f":369,"s":"r","v":178},{"f":380,"s":"r","v":-176},{"f":392,"s":"r","v":178},{"f":404,"s":"r","v":-178},{"f":417,"s":"r","v":176},{"f":430,"s":"r","v":-178},{"f":444,"s":"r","v":178},{"f":458,"s":"r","v":-177},{"f":473,"s":"r","v":178},{"f":489,"s":"r","v":-178},{"f":505,"s":"r","v":176},{"f":522,"s":"r","v":-178},{"f":540,"s":"r","v":178},{"f":558,"s":"r","v":-176},{"f":577,"s":"r","v":178},{"f":597,"s":"r","v":-178},{"f":618,"s":"r","v":176},{"f":640,"s":"r","v":-178},{"f":663,"s":"r","v":178},{"f":687,"s":"r","v":-176},{"f":712,"s":"r","v":178},{"f":738,"s":"r","v":-178},{"f":765,"s":"r","v":176},{"f":793,"s":"r","v":-178},{"f":822,"s":"r","v":178},{"f":852,"s":"r","v":-176},{"f":883,"s":"r","v":178},{"f":915,"s":"r","v":-178},{"f":948,"s":"r","v":176},{"f":982,"s":"r","v":-178},{"f":1000,"s":"r","v":178},
{"f":0.01,"s":"k","v":78},{"f":0.02,"s":"k","v":82},{"f":0.03,"s":"k","v":94},{"f":0.04,"s":"k","v":93},{"f":0.05,"s":"k","v":74},{"f":0.06,"s":"k","v":82},{"f":0.07,"s":"k","v":92},{"f":0.08,"s":"k","v":93},{"f":0.1,"s":"k","v":86},{"f":0.12,"s":"k","v":86},{"f":0.15,"s":"k","v":90},{"f":0.17,"s":"k","v":65},{"f":0.2,"s":"k","v":78},{"f":0.25,"s":"k","v":77},{"f":0.29,"s":"k","v":78},{"f":0.4,"s":"k","v":81},{"f":0.48,"s":"k","v":72},{"f":0.57,"s":"k","v":62},{"f":0.71,"s":"k","v":50},{"f":0.81,"s":"k","v":33},{"f":0.94,"s":"k","v":5},{"f":1.0,"s":"k","v":-5},{"f":1.06,"s":"k","v":-40},{"f":1.075,"s":"k","v":178},{"f":1.09,"s":"k","v":170},{"f":1.12,"s":"k","v":-40},{"f":1.18,"s":"k","v":-45},{"f":1.27,"s":"k","v":-52},{"f":1.44,"s":"k","v":-66},{"f":1.52,"s":"k","v":-82},{"f":1.62,"s":"k","v":-178},{"f":1.625,"s":"k","v":178},{"f":1.65,"s":"k","v":140},{"f":1.7,"s":"k","v":-175},{"f":1.705,"s":"k","v":175},{"f":1.78,"s":"k","v":118},{"f":1.95,"s":"k","v":115},{"f":2.1,"s":"k","v":117},{"f":2.3,"s":"k","v":130},{"f":2.4,"s":"k","v":165},{"f":2.44,"s":"k","v":-178},{"f":2.52,"s":"k","v":-100},{"f":2.7,"s":"k","v":-88},{"f":3.5,"s":"k","v":-86},{"f":4.5,"s":"k","v":-88},{"f":4.85,"s":"k","v":-94},{"f":5.0,"s":"k","v":-112},{"f":5.15,"s":"k","v":-178},{"f":5.155,"s":"k","v":178},{"f":5.3,"s":"k","v":-176},{"f":5.5,"s":"k","v":-120},{"f":5.95,"s":"k","v":-102},{"f":6.35,"s":"k","v":-122},{"f":6.7,"s":"k","v":-178},{"f":6.71,"s":"k","v":178},{"f":6.86,"s":"k","v":150},{"f":6.96,"s":"k","v":128},{"f":7.3,"s":"k","v":107},{"f":8.5,"s":"k","v":93},{"f":10.5,"s":"k","v":87},{"f":19,"s":"k","v":81},{"f":27,"s":"k","v":79},{"f":35,"s":"k","v":72},{"f":49,"s":"k","v":64},{"f":50,"s":"k","v":72},{"f":51,"s":"k","v":63},{"f":70,"s":"k","v":50},{"f":100,"s":"k","v":30},{"f":135,"s":"k","v":12},{"f":160,"s":"k","v":-3},{"f":175,"s":"k","v":-11},{"f":190,"s":"k","v":-20},{"f":200,"s":"k","v":-40},{"f":201,"s":"k","v":-60},{"f":204,"s":"k","v":178},{"f":207,"s":"k","v":-178},{"f":210,"s":"k","v":176},{"f":214,"s":"k","v":-177},{"f":217,"s":"k","v":178},{"f":221,"s":"k","v":-176},{"f":225,"s":"k","v":177},{"f":229,"s":"k","v":-178},{"f":234,"s":"k","v":176},{"f":239,"s":"k","v":-178},{"f":244,"s":"k","v":178},{"f":249,"s":"k","v":-176},{"f":254,"s":"k","v":177},{"f":260,"s":"k","v":-178},{"f":266,"s":"k","v":176},{"f":272,"s":"k","v":-178},{"f":279,"s":"k","v":178},{"f":286,"s":"k","v":-176},{"f":293,"s":"k","v":177},{"f":300,"s":"k","v":-178},{"f":308,"s":"k","v":176},{"f":316,"s":"k","v":-178},{"f":324,"s":"k","v":178},{"f":333,"s":"k","v":-177},{"f":343,"s":"k","v":176},{"f":353,"s":"k","v":-178},{"f":363,"s":"k","v":178},{"f":374,"s":"k","v":-176},{"f":386,"s":"k","v":177},{"f":398,"s":"k","v":-178},{"f":410,"s":"k","v":176},{"f":423,"s":"k","v":-178},{"f":437,"s":"k","v":178},{"f":451,"s":"k","v":-176},{"f":466,"s":"k","v":177},{"f":481,"s":"k","v":-178},{"f":497,"s":"k","v":176},{"f":514,"s":"k","v":-178},{"f":531,"s":"k","v":178},{"f":549,"s":"k","v":-177},{"f":568,"s":"k","v":176},{"f":587,"s":"k","v":-178},{"f":607,"s":"k","v":178},{"f":629,"s":"k","v":-176},{"f":651,"s":"k","v":177},{"f":675,"s":"k","v":-178},{"f":700,"s":"k","v":176},{"f":725,"s":"k","v":-178},{"f":752,"s":"k","v":178},{"f":779,"s":"k","v":-176},{"f":808,"s":"k","v":177},{"f":837,"s":"k","v":-178},{"f":868,"s":"k","v":176},{"f":900,"s":"k","v":-178},{"f":933,"s":"k","v":177},{"f":967,"s":"k","v":-178},{"f":1000,"s":"k","v":-176}
],
"coh": [
{"f":0.01,"s":"b","v":0.04},{"f":0.02,"s":"b","v":0.5},{"f":0.03,"s":"b","v":0.52},{"f":0.04,"s":"b","v":0.6},{"f":0.056,"s":"b","v":1},{"f":0.07,"s":"b","v":1},{"f":0.086,"s":"b","v":1},{"f":0.098,"s":"b","v":0.4},{"f":0.12,"s":"b","v":0.1},{"f":0.14,"s":"b","v":0.02},{"f":0.19,"s":"b","v":0.15},{"f":0.26,"s":"b","v":0.7},{"f":0.33,"s":"b","v":0.95},{"f":0.4,"s":"b","v":1},{"f":0.66,"s":"b","v":1},{"f":0.68,"s":"b","v":0.71},{"f":0.75,"s":"b","v":0.85},{"f":0.9,"s":"b","v":0.95},{"f":1.0,"s":"b","v":1},{"f":1.25,"s":"b","v":0.98},{"f":1.27,"s":"b","v":0.58},{"f":1.3,"s":"b","v":0.97},{"f":1.5,"s":"b","v":0.97},{"f":1.65,"s":"b","v":0.8},{"f":1.75,"s":"b","v":0.55},{"f":2.0,"s":"b","v":0.7},{"f":2.16,"s":"b","v":0.55},{"f":2.35,"s":"b","v":0.2},{"f":2.5,"s":"b","v":0.03},{"f":2.75,"s":"b","v":0.4},{"f":3.25,"s":"b","v":0.93},{"f":3.7,"s":"b","v":1},{"f":5.3,"s":"b","v":1},{"f":5.5,"s":"b","v":0.88},{"f":5.7,"s":"b","v":1},{"f":100,"s":"b","v":1},{"f":105,"s":"b","v":0.9},{"f":110,"s":"b","v":0.97},{"f":125,"s":"b","v":0.8},{"f":140,"s":"b","v":0.3},{"f":145,"s":"b","v":0.95},{"f":160,"s":"b","v":0.15},{"f":170,"s":"b","v":0.9},{"f":190,"s":"b","v":0.5},{"f":205,"s":"b","v":0.95},{"f":220,"s":"b","v":0.6},{"f":240,"s":"b","v":0.9},{"f":260,"s":"b","v":0.1},{"f":280,"s":"b","v":0.85},{"f":300,"s":"b","v":0.4},{"f":330,"s":"b","v":0.9},{"f":360,"s":"b","v":0.2},{"f":400,"s":"b","v":0.85},{"f":440,"s":"b","v":0.5},{"f":480,"s":"b","v":0.95},{"f":530,"s":"b","v":0.3},{"f":580,"s":"b","v":0.9},{"f":640,"s":"b","v":0.6},{"f":700,"s":"b","v":0.95},{"f":760,"s":"b","v":0.2},{"f":820,"s":"b","v":0.9},{"f":880,"s":"b","v":0.4},{"f":940,"s":"b","v":0.85},{"f":1000,"s":"b","v":0.7},
{"f":0.01,"s":"m","v":0.26},{"f":0.02,"s":"m","v":0.55},{"f":0.03,"s":"m","v":0.74},{"f":0.04,"s":"m","v":0.74},{"f":0.056,"s":"m","v":1},{"f":0.086,"s":"m","v":1},{"f":0.101,"s":"m","v":0.9},{"f":0.124,"s":"m","v":0.79},{"f":0.15,"s":"m","v":0.63},{"f":0.17,"s":"m","v":0.45},{"f":0.2,"s":"m","v":0.65},{"f":0.26,"s":"m","v":0.92},{"f":0.33,"s":"m","v":1},{"f":1.0,"s":"m","v":1},{"f":1.05,"s":"m","v":0.8},{"f":1.12,"s":"m","v":0.06},{"f":1.18,"s":"m","v":0.8},{"f":1.3,"s":"m","v":0.97},{"f":1.6,"s":"m","v":0.97},{"f":1.7,"s":"m","v":0.6},{"f":1.78,"s":"m","v":0.3},{"f":1.9,"s":"m","v":0.7},{"f":2.16,"s":"m","v":0.95},{"f":2.4,"s":"m","v":0.9},{"f":2.6,"s":"m","v":0.97},{"f":28.5,"s":"m","v":1},{"f":29,"s":"m","v":0.8},{"f":29.5,"s":"m","v":1},{"f":58,"s":"m","v":1},{"f":59,"s":"m","v":0.2},{"f":60,"s":"m","v":1},{"f":100,"s":"m","v":1},{"f":108,"s":"m","v":0.92},{"f":118,"s":"m","v":0.97},{"f":130,"s":"m","v":0.75},{"f":138,"s":"m","v":0.95},{"f":150,"s":"m","v":0.3},{"f":158,"s":"m","v":0.9},{"f":175,"s":"m","v":0.6},{"f":195,"s":"m","v":0.95},{"f":215,"s":"m","v":0.4},{"f":232,"s":"m","v":0.9},{"f":250,"s":"m","v":0.2},{"f":270,"s":"m","v":0.95},{"f":295,"s":"m","v":0.55},{"f":320,"s":"m","v":0.9},{"f":350,"s":"m","v":0.1},{"f":380,"s":"m","v":0.9},{"f":420,"s":"m","v":0.35},{"f":455,"s":"m","v":0.95},{"f":500,"s":"m","v":0.5},{"f":550,"s":"m","v":0.9},{"f":610,"s":"m","v":0.15},{"f":660,"s":"m","v":0.95},{"f":720,"s":"m","v":0.45},{"f":790,"s":"m","v":0.9},{"f":850,"s":"m","v":0.25},{"f":910,"s":"m","v":0.95},{"f":970,"s":"m","v":0.3},{"f":1000,"s":"m","v":0.9},
{"f":0.01,"s":"g","v":0.3},{"f":0.02,"s":"g","v":0.04},{"f":0.03,"s":"g","v":0.02},{"f":0.04,"s":"g","v":0.45},{"f":0.056,"s":"g","v":0.95},{"f":0.07,"s":"g","v":1},{"f":0.086,"s":"g","v":0.97},{"f":0.098,"s":"g","v":0.3},{"f":0.12,"s":"g","v":0.04},{"f":0.14,"s":"g","v":0.03},{"f":0.19,"s":"g","v":0.13},{"f":0.26,"s":"g","v":0.72},{"f":0.33,"s":"g","v":0.95},{"f":0.4,"s":"g","v":1},{"f":0.66,"s":"g","v":1},{"f":0.68,"s":"g","v":0.78},{"f":0.75,"s":"g","v":0.88},{"f":0.9,"s":"g","v":0.96},{"f":1.0,"s":"g","v":1},{"f":1.5,"s":"g","v":0.97},{"f":1.6,"s":"g","v":0.7},{"f":1.69,"s":"g","v":0.06},{"f":1.75,"s":"g","v":0.7},{"f":2.0,"s":"g","v":0.75},{"f":2.16,"s":"g","v":0.6},{"f":2.35,"s":"g","v":0.25},{"f":2.48,"s":"g","v":0.02},{"f":2.75,"s":"g","v":0.45},{"f":3.25,"s":"g","v":0.95},{"f":3.7,"s":"g","v":1},{"f":100,"s":"g","v":1},{"f":112,"s":"g","v":0.95},{"f":122,"s":"g","v":0.85},{"f":135,"s":"g","v":0.97},{"f":148,"s":"g","v":0.7},{"f":162,"s":"g","v":0.95},{"f":180,"s":"g","v":0.35},{"f":198,"s":"g","v":0.9},{"f":212,"s":"g","v":0.25},{"f":228,"s":"g","v":0.95},{"f":248,"s":"g","v":0.55},{"f":265,"s":"g","v":0.9},{"f":290,"s":"g","v":0.05},{"f":310,"s":"g","v":0.9},{"f":340,"s":"g","v":0.45},{"f":370,"s":"g","v":0.95},{"f":410,"s":"g","v":0.1},{"f":445,"s":"g","v":0.9},{"f":490,"s":"g","v":0.55},{"f":540,"s":"g","v":0.95},{"f":600,"s":"g","v":0.2},{"f":650,"s":"g","v":0.9},{"f":710,"s":"g","v":0.5},{"f":770,"s":"g","v":0.95},{"f":830,"s":"g","v":0.15},{"f":890,"s":"g","v":0.9},{"f":950,"s":"g","v":0.3},{"f":1000,"s":"g","v":0.85},
{"f":0.01,"s":"y","v":0.5},{"f":0.02,"s":"y","v":0.76},{"f":0.03,"s":"y","v":0.82},{"f":0.04,"s":"y","v":0.76},{"f":0.056,"s":"y","v":1},{"f":0.086,"s":"y","v":1},{"f":0.101,"s":"y","v":0.9},{"f":0.124,"s":"y","v":0.8},{"f":0.15,"s":"y","v":0.6},{"f":0.174,"s":"y","v":0.33},{"f":0.2,"s":"y","v":0.65},{"f":0.26,"s":"y","v":0.92},{"f":0.33,"s":"y","v":1},{"f":1.0,"s":"y","v":1},{"f":1.06,"s":"y","v":0.8},{"f":1.12,"s":"y","v":0.15},{"f":1.18,"s":"y","v":0.85},{"f":1.3,"s":"y","v":0.97},{"f":1.6,"s":"y","v":0.97},{"f":1.72,"s":"y","v":0.65},{"f":1.8,"s":"y","v":0.1},{"f":1.9,"s":"y","v":0.75},{"f":2.16,"s":"y","v":0.95},{"f":2.6,"s":"y","v":0.97},{"f":19.5,"s":"y","v":1},{"f":19.8,"s":"y","v":0.8},{"f":20.2,"s":"y","v":1},{"f":100,"s":"y","v":1},{"f":103,"s":"y","v":0.95},{"f":115,"s":"y","v":0.97},{"f":128,"s":"y","v":0.85},{"f":143,"s":"y","v":0.98},{"f":155,"s":"y","v":0.45},{"f":165,"s":"y","v":0.95},{"f":185,"s":"y","v":0.75},{"f":200,"s":"y","v":0.95},{"f":225,"s":"y","v":0.65},{"f":245,"s":"y","v":0.95},{"f":268,"s":"y","v":0.3},{"f":285,"s":"y","v":0.9},{"f":315,"s":"y","v":0.5},{"f":345,"s":"y","v":0.95},{"f":375,"s":"y","v":0.25},{"f":405,"s":"y","v":0.9},{"f":450,"s":"y","v":0.6},{"f":495,"s":"y","v":0.95},{"f":545,"s":"y","v":0.2},{"f":595,"s":"y","v":0.9},{"f":655,"s":"y","v":0.55},{"f":715,"s":"y","v":0.95},{"f":780,"s":"y","v":0.3},{"f":845,"s":"y","v":0.9},{"f":905,"s":"y","v":0.45},{"f":965,"s":"y","v":0.95},{"f":1000,"s":"y","v":0.6},
{"f":0.01,"s":"r","v":0.12},{"f":0.02,"s":"r","v":0.12},{"f":0.03,"s":"r","v":0.36},{"f":0.04,"s":"r","v":0.42},{"f":0.054,"s":"r","v":0.82},{"f":0.068,"s":"r","v":1},{"f":0.086,"s":"r","v":1},{"f":0.098,"s":"r","v":0.26},{"f":0.14,"s":"r","v":0.06},{"f":0.19,"s":"r","v":0.15},{"f":0.26,"s":"r","v":0.76},{"f":0.33,"s":"r","v":0.98},{"f":0.4,"s":"r","v":1},{"f":0.66,"s":"r","v":1},{"f":0.68,"s":"r","v":0.82},{"f":0.75,"s":"r","v":0.88},{"f":0.9,"s":"r","v":0.97},{"f":1.0,"s":"r","v":1},{"f":1.25,"s":"r","v":0.97},{"f":1.27,"s":"r","v":0.82},{"f":1.3,"s":"r","v":0.97},{"f":1.6,"s":"r","v":0.95},{"f":1.7,"s":"r","v":0.5},{"f":1.76,"s":"r","v":0.04},{"f":1.85,"s":"r","v":0.6},{"f":2.0,"s":"r","v":0.55},{"f":2.16,"s":"r","v":0.45},{"f":2.35,"s":"r","v":0.15},{"f":2.45,"s":"r","v":0},{"f":2.75,"s":"r","v":0.45},{"f":3.25,"s":"r","v":0.95},{"f":3.7,"s":"r","v":1},{"f":15.3,"s":"r","v":1},{"f":15.6,"s":"r","v":0.95},{"f":15.9,"s":"r","v":1},{"f":100,"s":"r","v":1},{"f":110,"s":"r","v":0.9},{"f":116,"s":"r","v":0.95},{"f":118,"s":"r","v":0},{"f":120,"s":"r","v":0.95},{"f":132,"s":"r","v":0.85},{"f":147,"s":"r","v":0.98},{"f":165,"s":"r","v":0.6},{"f":178,"s":"r","v":0.95},{"f":200,"s":"r","v":0.3},{"f":210,"s":"r","v":0.95},{"f":235,"s":"r","v":0.05},{"f":255,"s":"r","v":0.9},{"f":275,"s":"r","v":0.2},{"f":300,"s":"r","v":0.95},{"f":325,"s":"r","v":0},{"f":345,"s":"r","v":0.9},{"f":365,"s":"r","v":0.1},{"f":390,"s":"r","v":0.95},{"f":425,"s":"r","v":0},{"f":460,"s":"r","v":0.9},{"f":500,"s":"r","v":0.15},{"f":545,"s":"r","v":0.95},{"f":590,"s":"r","v":0.05},{"f":640,"s":"r","v":0.9},{"f":695,"s":"r","v":0.2},{"f":750,"s":"r","v":0.95},{"f":810,"s":"r","v":0},{"f":870,"s":"r","v":0.9},{"f":930,"s":"r","v":0.1},{"f":980,"s":"r","v":0.95},{"f":1000,"s":"r","v":0.4},
{"f":0.01,"s":"k","v":0.02},{"f":0.02,"s":"k","v":0.2},{"f":0.03,"s":"k","v":0.44},{"f":0.035,"s":"k","v":0.47},{"f":0.04,"s":"k","v":0.63},{"f":0.05,"s":"k","v":0.87},{"f":0.056,"s":"k","v":1},{"f":0.086,"s":"k","v":1},{"f":0.101,"s":"k","v":0.9},{"f":0.124,"s":"k","v":0.79},{"f":0.15,"s":"k","v":0.63},{"f":0.17,"s":"k","v":0.42},{"f":0.2,"s":"k","v":0.68},{"f":0.26,"s":"k","v":0.92},{"f":0.33,"s":"k","v":1},{"f":1.0,"s":"k","v":1},{"f":1.05,"s":"k","v":0.75},{"f":1.12,"s":"k","v":0.05},{"f":1.18,"s":"k","v":0.75},{"f":1.3,"s":"k","v":0.97},{"f":1.6,"s":"k","v":0.97},{"f":1.72,"s":"k","v":0.55},{"f":1.8,"s":"k","v":0.25},{"f":1.9,"s":"k","v":0.7},{"f":2.16,"s":"k","v":0.9},{"f":2.6,"s":"k","v":0.97},{"f":26,"s":"k","v":1},{"f":26.4,"s":"k","v":0.62},{"f":26.8,"s":"k","v":1},{"f":58.5,"s":"k","v":1},{"f":59,"s":"k","v":0.18},{"f":59.5,"s":"k","v":1},{"f":100,"s":"k","v":1},{"f":106,"s":"k","v":0.95},{"f":114,"s":"k","v":0.8},{"f":124,"s":"k","v":0.97},{"f":137,"s":"k","v":0.5},{"f":145,"s":"k","v":0.95},{"f":153,"s":"k","v":0.2},{"f":168,"s":"k","v":0.9},{"f":188,"s":"k","v":0.35},{"f":202,"s":"k","v":0.95},{"f":218,"s":"k","v":0.1},{"f":238,"s":"k","v":0.9},{"f":258,"s":"k","v":0.4},{"f":278,"s":"k","v":0.95},{"f":305,"s":"k","v":0.05},{"f":335,"s":"k","v":0.9},{"f":355,"s":"k","v":0.3},{"f":385,"s":"k","v":0.95},{"f":430,"s":"k","v":0.1},{"f":470,"s":"k","v":0.9},{"f":515,"s":"k","v":0.4},{"f":560,"s":"k","v":0.95},{"f":620,"s":"k","v":0.1},{"f":680,"s":"k","v":0.9},{"f":740,"s":"k","v":0.35},{"f":800,"s":"k","v":0.95},{"f":860,"s":"k","v":0.1},{"f":925,"s":"k","v":0.9},{"f":985,"s":"k","v":0.2},{"f":1000,"s":"k","v":0.9}
]
},
"vconcat": [
{
 "width": 1143, "height": 296,
 "data": {"name": "mag"},
 "mark": {"type": "line", "strokeWidth": 2.6, "clip": true, "strokeJoin": "round"},
 "encoding": {
  "x": {"field": "f", "type": "quantitative", "scale": {"type": "log", "domain": [0.01, 1000], "nice": false},
   "axis": {"title": null, "values": [0.01,0.02,0.03,0.04,0.05,0.06,0.07,0.08,0.09,0.1,0.2,0.3,0.4,0.5,0.6,0.7,0.8,0.9,1,2,3,4,5,6,7,8,9,10,20,30,40,50,60,70,80,90,100,200,300,400,500,600,700,800,900,1000], "labelExpr": "abs(log(datum.value)/LN10 - round(log(datum.value)/LN10)) < 0.001 ? '10' + ['⁻²','⁻¹','⁰','¹','²','³'][round(log(datum.value)/LN10)+2] : ''", "labelFontSize": 20, "labelOverlap": false, "labelFlush": false, "labelBound": false, "tickSize": -6, "labelPadding": 12, "grid": true}},
  "y": {"field": "v", "type": "quantitative", "scale": {"type": "log", "domain": [1e-6, 1000], "nice": false},
   "axis": {"title": "Magnitude (count/count)", "titleX": -51, "titleBaseline": "alphabetic", "titleAngle": 270, "values": [1e-6,2e-6,3e-6,4e-6,5e-6,6e-6,7e-6,8e-6,9e-6,1e-5,2e-5,3e-5,4e-5,5e-5,6e-5,7e-5,8e-5,9e-5,1e-4,2e-4,3e-4,4e-4,5e-4,6e-4,7e-4,8e-4,9e-4,1e-3,2e-3,3e-3,4e-3,5e-3,6e-3,7e-3,8e-3,9e-3,0.01,0.02,0.03,0.04,0.05,0.06,0.07,0.08,0.09,0.1,0.2,0.3,0.4,0.5,0.6,0.7,0.8,0.9,1,2,3,4,5,6,7,8,9,10,20,30,40,50,60,70,80,90,100,200,300,400,500,600,700,800,900,1000], "labelExpr": "abs(log(datum.value)/LN10 - round(log(datum.value)/LN10)) < 0.001 ? '10' + ['⁻⁶','⁻⁵','⁻⁴','⁻³','⁻²','⁻¹','⁰','¹','²','³'][round(log(datum.value)/LN10)+6] : ''", "labelFontSize": 20, "labelOverlap": false, "labelFlush": false, "labelBound": false, "tickSize": -5, "labelPadding": 11, "grid": true}},
  "color": {"field": "s", "type": "nominal", "scale": {"domain": ["b","m","g","y","r","k"], "range": ["#1414d2","#bf1fbf","#1a7d1a","#bdbd12","#f01818","#404040"]},
   "legend": {"orient": "none", "legendX": 435, "legendY": 141, "title": null, "direction": "vertical", "symbolType": "M-1,0H9", "symbolSize": 77.4, "symbolStrokeWidth": 2.6, "labelFontSize": 18, "labelFont": "Liberation Sans", "labelColor": "#000", "labelLimit": 500, "strokeColor": "#000", "fillColor": "#fff", "padding": 6, "rowPadding": 5, "labelOffset": 36,
    "labelExpr": "datum.label == 'b' ? 'ST1 ACT V1 toST1 L4C V1 :20130405' : datum.label == 'm' ? 'ST1 ACT V1 toST1 L4C V1 :20121216' : datum.label == 'g' ? 'ST1 ACT V2 toST1 L4C V2 :20130405' : datum.label == 'y' ? 'ST1 ACT V2 toST1 L4C V2 :20121216' : datum.label == 'r' ? 'ST1 ACT V3 toST1 L4C V3 :20130405' : 'ST1 ACT V3 toST1 L4C V3 :20121216'"}},
  "strokeDash": {"field": "s", "type": "nominal", "scale": {"domain": ["b","m","g","y","r","k"], "range": [[1,0],[7,3,2,3],[1,0],[7,3,2,3],[1,0],[7,3,2,3]]},
   "legend": {"orient": "none", "legendX": 435, "legendY": 141, "title": null, "direction": "vertical", "symbolType": "M-1,0H9", "symbolSize": 77.4, "symbolStrokeWidth": 2.6, "labelFontSize": 18, "labelFont": "Liberation Sans", "labelColor": "#000", "labelLimit": 500, "strokeColor": "#000", "fillColor": "#fff", "padding": 6, "rowPadding": 5, "labelOffset": 36,
    "labelExpr": "datum.label == 'b' ? 'ST1 ACT V1 toST1 L4C V1 :20130405' : datum.label == 'm' ? 'ST1 ACT V1 toST1 L4C V1 :20121216' : datum.label == 'g' ? 'ST1 ACT V2 toST1 L4C V2 :20130405' : datum.label == 'y' ? 'ST1 ACT V2 toST1 L4C V2 :20121216' : datum.label == 'r' ? 'ST1 ACT V3 toST1 L4C V3 :20130405' : 'ST1 ACT V3 toST1 L4C V3 :20121216'"}}
 }
},
{
 "width": 1143, "height": 298,
 "data": {"name": "phase"},
 "mark": {"type": "line", "strokeWidth": 2.6, "clip": true, "strokeJoin": "round"},
 "encoding": {
  "x": {"field": "f", "type": "quantitative", "scale": {"type": "log", "domain": [0.01, 1000], "nice": false},
   "axis": {"title": null, "values": [0.01,0.02,0.03,0.04,0.05,0.06,0.07,0.08,0.09,0.1,0.2,0.3,0.4,0.5,0.6,0.7,0.8,0.9,1,2,3,4,5,6,7,8,9,10,20,30,40,50,60,70,80,90,100,200,300,400,500,600,700,800,900,1000], "labelExpr": "abs(log(datum.value)/LN10 - round(log(datum.value)/LN10)) < 0.001 ? '10' + ['⁻²','⁻¹','⁰','¹','²','³'][round(log(datum.value)/LN10)+2] : ''", "labelFontSize": 20, "labelOverlap": false, "labelFlush": false, "labelBound": false, "tickSize": -6, "labelPadding": 12, "grid": true}},
  "y": {"field": "v", "type": "quantitative", "scale": {"domain": [-200, 200], "nice": false, "zero": false},
   "axis": {"title": "Angle(°)", "titleX": -58, "titleBaseline": "alphabetic", "titleAngle": 270, "values": [-180,-135,-90,-45,0,45,90,135,180], "labelFontSize": 19, "tickSize": -5, "labelPadding": 8, "grid": true}},
  "color": {"field": "s", "type": "nominal", "scale": {"domain": ["b","m","g","y","r","k"], "range": ["#1414d2","#bf1fbf","#1a7d1a","#bdbd12","#f01818","#404040"]}, "legend": null},
  "strokeDash": {"field": "s", "type": "nominal", "scale": {"domain": ["b","m","g","y","r","k"], "range": [[1,0],[7,3,2,3],[1,0],[7,3,2,3],[1,0],[7,3,2,3]]}, "legend": null}
 }
},
{
 "width": 1143, "height": 62,
 "data": {"name": "coh"},
 "layer": [
  {
   "mark": {"type": "line", "strokeWidth": 2.6, "clip": true, "strokeJoin": "round"},
   "encoding": {
    "x": {"field": "f", "type": "quantitative", "scale": {"type": "log", "domain": [0.01, 1000], "nice": false},
     "axis": {"title": "Frequency (Hz)", "titleFontSize": 19, "titlePadding": 6, "values": [0.01,0.02,0.03,0.04,0.05,0.06,0.07,0.08,0.09,0.1,0.2,0.3,0.4,0.5,0.6,0.7,0.8,0.9,1,2,3,4,5,6,7,8,9,10,20,30,40,50,60,70,80,90,100,200,300,400,500,600,700,800,900,1000], "labelExpr": "abs(log(datum.value)/LN10 - round(log(datum.value)/LN10)) < 0.001 ? '10' + ['⁻²','⁻¹','⁰','¹','²','³'][round(log(datum.value)/LN10)+2] : ''", "labelFontSize": 20, "labelOverlap": false, "labelFlush": false, "labelBound": false, "tickSize": -6, "labelPadding": 12, "grid": true}},
    "y": {"field": "v", "type": "quantitative", "scale": {"domain": [0, 1], "nice": false},
     "axis": {"title": "Coherence", "titleX": -47, "titleBaseline": "alphabetic", "titleAngle": 270, "values": [0, 0.5, 1], "format": "~g", "labelFontSize": 19, "tickSize": -5, "labelPadding": 8, "grid": true}},
    "color": {"field": "s", "type": "nominal", "scale": {"domain": ["b","m","g","y","r","k"], "range": ["#1414d2","#bf1fbf","#1a7d1a","#bdbd12","#f01818","#404040"]}, "legend": null},
    "strokeDash": {"field": "s", "type": "nominal", "scale": {"domain": ["b","m","g","y","r","k"], "range": [[1,0],[7,3,2,3],[1,0],[7,3,2,3],[1,0],[7,3,2,3]]}, "legend": null}
   }
  },
  {
   "mark": {"type": "line", "opacity": 0},
   "encoding": {
    "x": {"field": "f", "type": "quantitative"},
    "y": {"field": "v", "type": "quantitative", "scale": {"domain": [0, 1], "nice": false},
     "axis": {"orient": "right", "title": "created by Plot_Comparison_TF_ISI on 28-Oct-2013", "labels": false, "ticks": false, "domain": false, "grid": false, "titleAngle": 270, "titleX": 13, "titleY": 63, "titleAlign": "left", "titleBaseline": "alphabetic", "titleFontSize": 12.5, "titleColor": "#222"}}
   }
  }
 ],
 "resolve": {"scale": {"y": "independent"}, "axis": {"y": "independent"}}
}
]
}
